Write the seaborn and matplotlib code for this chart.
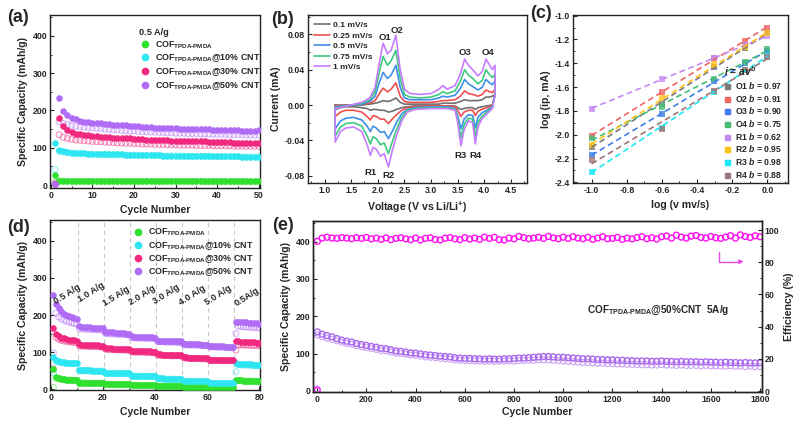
import numpy as np
import pandas as pd
import matplotlib
matplotlib.use("Agg")
import matplotlib.pyplot as plt
import seaborn as sns
from matplotlib.ticker import MultipleLocator, AutoMinorLocator, FormatStrFormatter
from matplotlib.lines import Line2D

# ---------------- data ----------------
SUB = r"COF$_{\mathrm{TPDA\text{-}PMDA}}$"
SERIES = [SUB, SUB + "@10% CNT", SUB + "@30% CNT", SUB + "@50% CNT"]

# (a) cycling at 0.5 A/g
a_cycles = list(range(1, 51))
a_green_f = [28, 12, 12, 11, 11, 11, 11, 11, 11, 11, 11, 11, 11, 11, 11, 11, 11, 11, 11, 10,
             10, 10, 10, 10, 10, 10, 10, 10, 10, 10, 10, 10, 10, 10, 10, 10, 10, 10, 10, 10,
             10, 10, 10, 10, 10, 10, 10, 10, 10, 10]
a_green_o = [8, 11, 11, 10, 10, 10, 10, 10, 10, 10, 10, 10, 10, 10, 10, 10, 10, 10, 10, 10,
             10, 10, 10, 10, 10, 10, 10, 10, 10, 10, 10, 10, 10, 10, 10, 10, 9, 9, 9, 9,
             9, 9, 9, 9, 9, 9, 9, 9, 9, 9]
a_cyan_f = [113, 93, 90, 88, 87, 86, 85, 85, 84, 84, 83, 83, 83, 82, 82, 82, 82, 81, 81, 81,
            81, 80, 80, 80, 80, 80, 79, 79, 79, 79, 79, 79, 78, 78, 78, 78, 78, 78, 77, 77,
            77, 77, 77, 77, 77, 76, 76, 76, 76, 76]
a_cyan_o = [42, 90, 88, 87, 86, 85, 84, 84, 83, 83, 82, 82, 82, 81, 81, 81, 81, 80, 80, 80,
            80, 79, 79, 79, 79, 79, 78, 78, 78, 78, 78, 78, 77, 77, 77, 77, 77, 77, 76, 76,
            76, 76, 76, 76, 76, 75, 75, 75, 75, 75]
a_pink_f = [4, 180, 157, 147, 141, 138, 136, 134, 133, 132, 131, 130, 129, 128, 127, 127, 126, 125, 125, 124,
            123, 123, 122, 122, 121, 121, 120, 120, 119, 119, 119, 118, 118, 118, 117, 117, 117, 116, 116, 116,
            115, 115, 115, 114, 114, 114, 113, 113, 113, 113]
a_pink_o = [4, 135, 128, 125, 123, 121, 120, 119, 118, 117, 116, 116, 115, 114, 114, 113, 113, 112, 112, 111,
            111, 110, 110, 110, 109, 109, 109, 108, 108, 108, 107, 107, 107, 107, 106, 106, 106, 106, 105, 105,
            105, 105, 105, 104, 104, 104, 104, 104, 104, 104]
a_purple_f = [2, 233, 198, 188, 181, 176, 173, 170, 168, 167, 166, 165, 164, 163, 162, 162, 161, 160, 159, 158,
              157, 156, 155, 155, 154, 154, 153, 153, 152, 152, 151, 151, 150, 150, 150, 149, 149, 149, 148, 148,
              148, 147, 147, 147, 147, 146, 146, 146, 146, 147]
a_purple_o = [2, 170, 165, 162, 160, 158, 156, 155, 154, 153, 152, 151, 150, 149, 148, 148, 147, 146, 145, 145,
              144, 143, 143, 142, 142, 141, 141, 140, 140, 139, 139, 139, 138, 138, 138, 137, 137, 137, 136, 136,
              136, 136, 135, 135, 135, 135, 134, 134, 134, 134]

# (b) CV curves
cv_rates = ["0.1 mV/s", "0.25 mV/s", "0.5 mV/s", "0.75 mV/s", "1 mV/s"]
cv_v_up = [1.20, 1.50, 1.70, 1.85, 1.95, 2.02, 2.10, 2.18, 2.25, 2.34, 2.42, 2.50, 2.60, 2.80, 3.00,
           3.15, 3.22, 3.30, 3.45, 3.55, 3.63, 3.70, 3.78, 3.88, 3.96, 4.03, 4.10, 4.15, 4.20]
cv_up = {
    "0.1 mV/s": [0.000, 0.000, 0.000, 0.001, 0.002, 0.003, 0.005, 0.004, 0.005, 0.008, 0.003, 0.001, 0.001, 0.001, 0.001,
                 0.001, 0.002, 0.002, 0.002, 0.004, 0.006, 0.005, 0.005, 0.005, 0.006, 0.009, 0.009, 0.010, 0.012],
    "0.25 mV/s": [-0.001, 0.000, 0.001, 0.002, 0.005, 0.012, 0.019, 0.015, 0.018, 0.025, 0.010, 0.004, 0.003, 0.003, 0.003,
                  0.004, 0.005, 0.005, 0.006, 0.010, 0.016, 0.013, 0.012, 0.010, 0.012, 0.017, 0.015, 0.014, 0.018],
    "0.5 mV/s": [-0.002, 0.000, 0.001, 0.004, 0.010, 0.024, 0.037, 0.030, 0.034, 0.045, 0.020, 0.008, 0.006, 0.006, 0.006,
                 0.008, 0.010, 0.009, 0.011, 0.019, 0.029, 0.024, 0.021, 0.017, 0.020, 0.029, 0.025, 0.023, 0.027],
    "0.75 mV/s": [-0.003, 0.000, 0.002, 0.006, 0.015, 0.035, 0.055, 0.045, 0.050, 0.062, 0.030, 0.012, 0.009, 0.008, 0.009,
                  0.012, 0.015, 0.013, 0.016, 0.027, 0.040, 0.034, 0.030, 0.024, 0.028, 0.040, 0.034, 0.031, 0.035],
    "1 mV/s": [-0.004, 0.000, 0.003, 0.008, 0.020, 0.045, 0.070, 0.058, 0.062, 0.079, 0.040, 0.018, 0.013, 0.012, 0.013,
               0.018, 0.022, 0.018, 0.022, 0.035, 0.052, 0.045, 0.040, 0.033, 0.038, 0.052, 0.045, 0.040, 0.045],
}
cv_v_down = [4.20, 4.15, 4.05, 3.95, 3.88, 3.83, 3.78, 3.70, 3.62, 3.56, 3.50, 3.45, 3.30, 3.00, 2.70, 2.55,
             2.45, 2.35, 2.27, 2.20, 2.12, 2.05, 1.97, 1.91, 1.86, 1.80, 1.70, 1.55, 1.40, 1.30, 1.20]
cv_down = {
    "0.1 mV/s": [0.012, 0.000, -0.001, -0.002, -0.003, -0.005, -0.003, -0.003, -0.004, -0.005, -0.003, -0.001, -0.001, -0.001, -0.001, -0.002,
                 -0.003, -0.005, -0.007, -0.008, -0.006, -0.006, -0.005, -0.005, -0.006, -0.004, -0.003, -0.002, -0.002, -0.003, -0.005],
    "0.25 mV/s": [0.012, -0.001, -0.003, -0.005, -0.007, -0.012, -0.006, -0.006, -0.008, -0.013, -0.006, -0.002, -0.001, -0.001, -0.002, -0.003,
                  -0.006, -0.011, -0.016, -0.021, -0.016, -0.016, -0.013, -0.012, -0.017, -0.013, -0.008, -0.006, -0.006, -0.008, -0.013],
    "0.5 mV/s": [0.012, -0.002, -0.006, -0.009, -0.014, -0.026, -0.012, -0.011, -0.016, -0.027, -0.012, -0.004, -0.002, -0.002, -0.003, -0.005,
                 -0.010, -0.020, -0.030, -0.038, -0.030, -0.031, -0.026, -0.024, -0.030, -0.024, -0.017, -0.014, -0.015, -0.018, -0.027],
    "0.75 mV/s": [0.012, -0.003, -0.008, -0.013, -0.020, -0.036, -0.016, -0.015, -0.022, -0.037, -0.016, -0.005, -0.003, -0.003, -0.004, -0.006,
                  -0.014, -0.028, -0.042, -0.055, -0.043, -0.045, -0.038, -0.036, -0.044, -0.035, -0.024, -0.020, -0.021, -0.025, -0.035],
    "1 mV/s": [0.012, -0.004, -0.010, -0.016, -0.025, -0.044, -0.020, -0.018, -0.028, -0.046, -0.020, -0.006, -0.004, -0.004, -0.005, -0.008,
               -0.018, -0.035, -0.052, -0.070, -0.055, -0.058, -0.050, -0.048, -0.057, -0.045, -0.030, -0.025, -0.026, -0.030, -0.042],
}
cv_peak_names = ["O1", "O2", "O3", "O4", "R1", "R2", "R3", "R4"]
cv_peak_v = [2.13, 2.36, 3.63, 4.06, 1.86, 2.20, 3.55, 3.84]
cv_peak_i = [0.076, 0.084, 0.059, 0.059, -0.076, -0.080, -0.057, -0.057]

# (c) log(ip) vs log(v)
c_logv = [-1.0, -0.602, -0.301, -0.125, 0.0]
c_peaks = ["O1", "O2", "O3", "O4", "R1", "R2", "R3", "R4"]
c_bvals = ["0.97", "0.91", "0.90", "0.75", "0.62", "0.95", "0.98", "0.88"]
c_logi = {
    "O1": [-2.10, -1.74, -1.43, -1.27, -1.15],
    "O2": [-2.01, -1.64, -1.36, -1.21, -1.10],
    "O3": [-2.17, -1.83, -1.55, -1.40, -1.30],
    "O4": [-2.03, -1.77, -1.53, -1.39, -1.28],
    "R1": [-1.78, -1.53, -1.36, -1.25, -1.17],
    "R2": [-2.09, -1.69, -1.41, -1.26, -1.15],
    "R3": [-2.31, -1.94, -1.64, -1.46, -1.34],
    "R4": [-2.21, -1.95, -1.63, -1.46, -1.35],
}

# (d) rate capability
d_cycles = list(range(1, 81))
d_rate_labels = ["0.5 A/g", "1.0 A/g", "1.5 A/g", "2.0 A/g", "3.0 A/g", "4.0 A/g", "5.0 A/g", "0.5A/g"]
d_label_x = [6.3, 15.7, 25.3, 35.0, 44.5, 54.2, 64.4, 75.3]
d_label_y = [257, 261, 250, 254, 257, 252, 254, 250]
d_boundaries = [10.5, 20.5, 30.5, 40.5, 50.5, 60.5, 70.5]
d_green_f = [55, 33, 30, 28, 27, 26, 26, 25, 25, 25, 18, 18, 18, 17, 17, 17, 17, 17, 17, 17,
             15, 15, 14, 14, 14, 14, 14, 14, 14, 14, 12, 12, 12, 11, 11, 11, 11, 11, 11, 11,
             9, 9, 9, 9, 9, 9, 9, 9, 9, 9, 7, 7, 7, 7, 7, 7, 7, 7, 7, 7,
             5, 5, 5, 5, 5, 5, 5, 5, 5, 5, 25, 24, 24, 23, 23, 23, 23, 22, 22, 22]
d_green_o = [5, 30, 28, 27, 26, 25, 25, 24, 24, 24, 17, 17, 17, 16, 16, 16, 16, 16, 16, 16,
             14, 14, 13, 13, 13, 13, 13, 13, 13, 13, 11, 11, 11, 10, 10, 10, 10, 10, 10, 10,
             8, 8, 8, 8, 8, 8, 8, 8, 8, 8, 6, 6, 6, 6, 6, 6, 6, 6, 6, 6,
             4, 4, 4, 4, 4, 4, 4, 4, 4, 4, 22, 23, 23, 22, 22, 22, 22, 21, 21, 21]
d_cyan_f = [87, 78, 76, 74, 73, 72, 72, 71, 71, 70, 52, 51, 51, 51, 51, 50, 50, 50, 50, 50,
            44, 44, 44, 43, 43, 43, 43, 43, 43, 43, 37, 37, 37, 36, 36, 36, 36, 36, 36, 36,
            29, 29, 29, 28, 28, 28, 28, 28, 28, 28, 22, 22, 22, 21, 21, 21, 21, 21, 21, 21,
            17, 17, 17, 16, 16, 16, 16, 16, 16, 16, 70, 69, 68, 68, 67, 67, 67, 66, 66, 66]
d_cyan_o = [45, 74, 73, 72, 71, 70, 70, 69, 69, 69, 50, 50, 50, 49, 49, 49, 49, 49, 49, 49,
            43, 43, 42, 42, 42, 42, 42, 42, 42, 42, 36, 36, 35, 35, 35, 35, 35, 35, 35, 35,
            28, 28, 27, 27, 27, 27, 27, 27, 27, 27, 21, 21, 21, 20, 20, 20, 20, 20, 20, 20,
            16, 16, 15, 15, 15, 15, 15, 15, 15, 15, 47, 66, 66, 65, 65, 65, 64, 64, 64, 64]
d_pink_f = [166, 150, 143, 139, 137, 135, 134, 133, 132, 131, 121, 120, 120, 119, 119, 118, 118, 118, 117, 117,
            111, 110, 110, 109, 109, 109, 108, 108, 108, 108, 104, 103, 103, 103, 102, 102, 102, 102, 101, 101,
            94, 94, 93, 93, 93, 93, 92, 92, 92, 92, 86, 86, 85, 85, 85, 85, 85, 84, 84, 84,
            80, 80, 80, 80, 79, 79, 79, 79, 79, 79, 130, 129, 128, 128, 127, 127, 126, 126, 125, 125]
d_pink_o = [55, 140, 135, 132, 130, 129, 128, 127, 126, 126, 117, 116, 116, 116, 115, 115, 115, 115, 114, 114,
            108, 107, 107, 107, 106, 106, 106, 106, 105, 105, 101, 100, 100, 100, 100, 99, 99, 99, 99, 99,
            92, 91, 91, 91, 91, 90, 90, 90, 90, 90, 84, 84, 83, 83, 83, 83, 83, 82, 82, 82,
            78, 78, 78, 78, 77, 77, 77, 77, 77, 77, 105, 120, 120, 119, 119, 119, 118, 118, 118, 118]
d_purple_f = [253, 230, 218, 210, 204, 200, 197, 194, 192, 190, 170, 169, 168, 167, 167, 166, 166, 165, 165, 164,
              155, 154, 153, 153, 152, 152, 151, 151, 150, 150, 143, 142, 142, 141, 141, 141, 140, 140, 140, 139,
              131, 131, 130, 130, 130, 130, 129, 129, 129, 129, 123, 122, 122, 122, 121, 121, 121, 120, 120, 120,
              117, 117, 116, 116, 116, 116, 115, 115, 115, 115, 182, 181, 181, 180, 180, 179, 179, 178, 178, 177]
d_purple_o = [98, 205, 195, 190, 186, 183, 181, 179, 177, 176, 163, 163, 162, 162, 161, 161, 161, 160, 160, 160,
              150, 150, 149, 149, 149, 148, 148, 148, 147, 147, 139, 139, 138, 138, 138, 137, 137, 137, 137, 136,
              128, 128, 128, 127, 127, 127, 127, 126, 126, 126, 120, 120, 119, 119, 119, 119, 118, 118, 118, 118,
              114, 114, 114, 113, 113, 113, 113, 113, 112, 112, 150, 170, 169, 168, 168, 167, 167, 166, 166, 165]

# (e) long cycling at 5 A/g
e_cycles = [1] + list(range(20, 1801, 20))
e_charge = [158, 152, 148, 145, 140, 136, 133, 131, 127, 124, 122, 119, 117, 114, 113, 110, 107, 106, 104, 102,
            101, 99, 97, 96, 95, 93, 92, 91, 89, 88, 87, 87, 86, 86, 85, 86, 85, 85, 86, 86,
            87, 88, 88, 89, 90, 91, 92, 92, 91, 90, 90, 89, 88, 87, 86, 86, 85, 84, 84, 83,
            83, 82, 82, 81, 81, 80, 80, 80, 79, 79, 80, 79, 79, 78, 79, 78, 78, 78, 77, 78,
            77, 77, 76, 77, 76, 76, 75, 76, 75, 75, 75]
e_discharge = [150, 145, 141, 138, 134, 130, 127, 125, 121, 118, 116, 113, 111, 108, 107, 104, 101, 100, 98, 96,
               95, 93, 91, 90, 89, 87, 86, 85, 83, 82, 81, 81, 80, 80, 79, 80, 79, 79, 80, 80,
               80, 81, 81, 82, 82, 83, 83, 83, 82, 81, 80, 79, 78, 77, 76, 76, 75, 74, 74, 73,
               73, 72, 72, 71, 71, 70, 70, 70, 69, 69, 70, 69, 69, 68, 69, 68, 68, 68, 67, 68,
               67, 67, 67, 66, 67, 66, 66, 65, 66, 65, 65]
e_eff = [93.0, 95.0, 95.5, 95.0, 94.8, 95.3, 95.0, 94.6, 95.2, 94.8, 95.4, 94.5, 95.0, 94.2, 95.1, 94.0, 94.8, 95.2, 94.5, 94.0,
         95.0, 93.8, 94.8, 95.2, 94.1, 93.8, 94.9, 95.3, 94.5, 94.0, 95.2, 94.4, 95.0, 94.2, 95.6, 94.8, 95.5, 94.0, 93.8, 95.0,
         94.5, 96.0, 95.2, 94.6, 95.0, 95.5, 94.8, 96.0, 95.1, 94.6, 95.6, 94.8, 95.8, 95.0, 94.6, 95.5, 94.2, 95.0, 95.8, 94.6,
         94.8, 95.4, 94.2, 95.0, 94.5, 95.3, 95.8, 94.6, 95.2, 94.4, 95.8, 96.3, 95.0, 96.8, 95.6, 95.0, 96.2, 96.6, 95.4, 95.0,
         96.0, 95.2, 94.8, 95.6, 96.5, 95.0, 97.0, 96.0, 95.4, 96.4, 95.8]
e_first_cycle = [0]
e_first_discharge = [6]
e_first_eff = [0.5]

# ---------------- style ----------------
sns.set_theme(style="ticks")
plt.rcParams.update({
    "font.family": ["Liberation Sans", "DejaVu Sans"],
    "font.weight": "bold",
    "axes.labelweight": "bold",
    "axes.unicode_minus": False,
    "mathtext.fontset": "custom",
    "mathtext.rm": "Liberation Sans:bold",
    "mathtext.it": "Liberation Sans:italic:bold",
    "mathtext.bf": "Liberation Sans:bold",
    "xtick.direction": "in", "ytick.direction": "in",
    "xtick.major.size": 3, "ytick.major.size": 3,
    "xtick.minor.size": 1.6, "ytick.minor.size": 1.6,
    "xtick.major.width": 0.8, "ytick.major.width": 0.8,
    "xtick.minor.width": 0.7, "ytick.minor.width": 0.7,
    "xtick.major.pad": 2.5, "ytick.major.pad": 2,
    "axes.linewidth": 1.0,
    "axes.edgecolor": "#222222",
    "xtick.labelsize": 6.3, "ytick.labelsize": 6.3,
    "axes.labelsize": 7.6,
})

GREEN, CYAN, PINK, PURPLE = "#2fe02f", "#2ee6f2", "#f0287f", "#b06cf5"
COLS4 = [GREEN, CYAN, PINK, PURPLE]

W, H = 802, 425
fig = plt.figure(figsize=(W / 100, H / 100), dpi=100)


def box(l, t, r, b):
    return [l / W, 1 - b / H, (r - l) / W, (b - t) / H]


axa = fig.add_axes(box(50, 15, 260, 188))
axb = fig.add_axes(box(308, 15, 527, 183))
axc = fig.add_axes(box(573, 15, 788, 183))
axd = fig.add_axes(box(50, 220, 260, 390))
axe = fig.add_axes(box(313, 221, 762, 392))

for ax in (axa, axb, axc, axd, axe):
    for s in ax.spines.values():
        s.set_visible(True)
    ax.tick_params(top=False, right=False)


def scat(ax, x, y, col, filled, size=18):
    if filled:
        sns.scatterplot(x=x, y=y, ax=ax, color=col, s=size, edgecolor=col, linewidth=0.4,
                        legend=False, zorder=3)
    else:
        sns.scatterplot(x=x, y=y, ax=ax, facecolor="none", edgecolor=col, s=size, linewidth=0.8,
                        alpha=0.5, legend=False, zorder=2)


# ---------- (a) ----------
a_open = [a_green_o, a_cyan_o, a_pink_o, a_purple_o]
a_fill = [a_green_f, a_cyan_f, a_pink_f, a_purple_f]
for yo, col in zip(a_open, COLS4):
    scat(axa, a_cycles, yo, col, False)
for yf, col in zip(a_fill, COLS4):
    scat(axa, a_cycles, yf, col, True)
axa.set_xlim(-0.2, 50.3)
axa.set_ylim(-8, 456)
axa.xaxis.set_major_locator(MultipleLocator(10))
axa.yaxis.set_major_locator(MultipleLocator(100))
axa.xaxis.set_minor_locator(AutoMinorLocator(2))
axa.yaxis.set_minor_locator(AutoMinorLocator(2))
axa.set_xlabel("Cycle Number", labelpad=3)
axa.set_ylabel("Specific Capacity (mAh/g)", labelpad=3)
hand = [Line2D([], [], marker="o", ls="", color=c, markersize=4.5) for c in COLS4]
lg = axa.legend(hand, SERIES, title="0.5 A/g", loc="upper left", bbox_to_anchor=(0.395, 0.958),
                frameon=False, fontsize=6.4, title_fontsize=6.6, labelspacing=0.2,
                handletextpad=0.55, handlelength=1.2, borderpad=0.2)
lg._legend_box.align = "left"
lg.get_title().set_fontweight("bold")

# ---------- (b) ----------
CV_COLS = ["#707070", "#ef4f4f", "#3f8fe8", "#3ec97f", "#c57cff"]
rows = []
for rate in cv_rates:
    vs = cv_v_up + cv_v_down + [cv_v_up[0]]
    cs = cv_up[rate] + cv_down[rate] + [cv_up[rate][0]]
    for k, (v, c) in enumerate(zip(vs, cs)):
        rows.append({"V": v, "I": c, "rate": rate, "k": k})
cvdf = pd.DataFrame(rows)
sns.lineplot(data=cvdf, x="V", y="I", hue="rate", palette=CV_COLS, hue_order=cv_rates,
             sort=False, estimator=None, units="rate", ax=axb, lw=1.2, legend=False)
axb.set_xlim(0.69, 4.8)
axb.set_ylim(-0.0883, 0.1019)
axb.xaxis.set_major_locator(MultipleLocator(0.5))
axb.yaxis.set_major_locator(MultipleLocator(0.04))
axb.xaxis.set_minor_locator(AutoMinorLocator(2))
axb.yaxis.set_minor_locator(AutoMinorLocator(2))
axb.xaxis.set_major_formatter(FormatStrFormatter("%.1f"))
axb.yaxis.set_major_formatter(FormatStrFormatter("%.2f"))
axb.set_xlabel("Voltage (V vs Li/Li$^{+}$)", labelpad=3)
axb.set_ylabel("Current (mA)", labelpad=3)
for name, v, i in zip(cv_peak_names, cv_peak_v, cv_peak_i):
    axb.text(v, i, name, ha="center", va="center", fontsize=6.8, fontweight="bold")
hb = [Line2D([], [], color=c, lw=1.2) for c in CV_COLS]
axb.legend(hb, cv_rates, loc="upper left", bbox_to_anchor=(0.0, 1.0), frameon=False,
           fontsize=6.1, labelspacing=0.3, handlelength=1.8, handletextpad=0.4, borderpad=0.25)

# ---------- (c) ----------
C_COLS = ["#7a7a7a", "#f06464", "#3d7fe6", "#43bd77", "#c58af2", "#ffc21a", "#19e8f5", "#a27474"]
for p, col, b in zip(c_peaks, C_COLS, c_bvals):
    sns.regplot(x=c_logv, y=c_logi[p], ax=axc, ci=None, marker="s", color=col,
                scatter_kws={"s": 13, "linewidths": 0}, truncate=True,
                line_kws={"ls": (0, (3.5, 2.2)), "lw": 1.2}, label=f"{p} $b$ = {b}")
axc.set_xlim(-1.106, 0.118)
axc.set_ylim(-2.405, -0.995)
axc.xaxis.set_major_locator(MultipleLocator(0.2))
axc.yaxis.set_major_locator(MultipleLocator(0.2))
axc.xaxis.set_minor_locator(AutoMinorLocator(2))
axc.yaxis.set_minor_locator(AutoMinorLocator(2))
axc.xaxis.set_major_formatter(FormatStrFormatter("%.1f"))
axc.yaxis.set_major_formatter(FormatStrFormatter("%.1f"))
axc.set_xlabel("log (v mv/s)", labelpad=3)
axc.set_ylabel("log (ip, mA)", labelpad=3)
hc = [Line2D([], [], marker="s", ls="", color=c, markersize=3.6) for c in C_COLS]
lc = axc.legend(hc, [f"{p} $b$ = {b}" for p, b in zip(c_peaks, c_bvals)],
                title=r"$i$ = $av^b$", loc="lower right", bbox_to_anchor=(1.0, -0.012), frameon=False,
                fontsize=6.2, title_fontsize=7.4, labelspacing=0.2, handlelength=0.8,
                handletextpad=0.5, borderpad=0.1)
lc._legend_box.align = "left"

# ---------- (d) ----------
for xb in d_boundaries:
    axd.axvline(xb, color="#c8c8c8", ls=(0, (4, 3)), lw=0.8, zorder=1)
d_open = [d_green_o, d_cyan_o, d_pink_o, d_purple_o]
d_fill = [d_green_f, d_cyan_f, d_pink_f, d_purple_f]
for yo, col in zip(d_open, COLS4):
    scat(axd, d_cycles, yo, col, False)
for yf, col in zip(d_fill, COLS4):
    scat(axd, d_cycles, yf, col, True)
for lab, x, y in zip(d_rate_labels, d_label_x, d_label_y):
    axd.text(x, y, lab, rotation=32, ha="center", va="center", fontsize=6.6, fontweight="bold")
axd.set_xlim(-0.3, 80.3)
axd.set_ylim(-2, 456)
axd.xaxis.set_major_locator(MultipleLocator(20))
axd.yaxis.set_major_locator(MultipleLocator(100))
axd.xaxis.set_minor_locator(AutoMinorLocator(2))
axd.yaxis.set_minor_locator(AutoMinorLocator(2))
axd.set_xlabel("Cycle Number", labelpad=3)
axd.set_ylabel("Specific Capacity (mAh/g)", labelpad=3)
axd.legend(hand, SERIES, loc="upper left", bbox_to_anchor=(0.36, 1.0),
           frameon=False, fontsize=6.4, labelspacing=0.17,
           handletextpad=0.55, handlelength=1.2, borderpad=0.25)

# ---------- (e) ----------
E_PURPLE = "#a968ee"
sns.scatterplot(x=e_cycles, y=e_discharge, ax=axe, facecolor="none", edgecolor="#c9a2f3",
                s=18, linewidth=0.8, legend=False, zorder=2)
sns.scatterplot(x=e_cycles, y=e_charge, ax=axe, facecolor="none", edgecolor=E_PURPLE,
                s=18, linewidth=1.0, legend=False, zorder=3)
sns.scatterplot(x=e_first_cycle, y=e_first_discharge, ax=axe, facecolor="none",
                edgecolor="#c9a2f3", s=18, linewidth=0.8, legend=False)
axe.set_xlim(-17, 1808)
axe.set_ylim(-3, 455)
axe.xaxis.set_major_locator(MultipleLocator(200))
axe.yaxis.set_major_locator(MultipleLocator(100))
axe.xaxis.set_minor_locator(AutoMinorLocator(2))
axe.yaxis.set_minor_locator(AutoMinorLocator(2))
axe.set_xlabel("Cycle Number", labelpad=2)
axe.set_ylabel("Specific Capacity (mAh/g)", labelpad=3)
axe.text(1097, 215, SUB + "@50%CNT  5A/g", ha="left", va="center",
         fontsize=7.2, fontweight="bold")
ax2 = axe.twinx()
sns.scatterplot(x=e_cycles, y=e_eff, ax=ax2, facecolor="none", edgecolor="#ff11ee",
                s=18, linewidth=1.0, legend=False)
sns.scatterplot(x=e_first_cycle, y=e_first_eff, ax=ax2, facecolor="none", edgecolor="#ff11ee",
                s=18, linewidth=1.0, legend=False)
ax2.set_ylim(-0.6, 105.6)
ax2.yaxis.set_major_locator(MultipleLocator(20))
ax2.yaxis.set_minor_locator(AutoMinorLocator(2))
ax2.tick_params(axis="y", direction="in", right=True, labelsize=6.3)
ax2.set_ylabel("Efficiency (%)", labelpad=3, fontsize=7.6, fontweight="bold")
axe.plot([1633, 1633, 1710], [372, 346, 346], color="#e64ae6", lw=1.0)
axe.annotate("", xy=[1745, 346], xytext=[1700, 346],
             arrowprops=dict(arrowstyle="-|>", color="#e64ae6", lw=1.0, mutation_scale=6))

for lab in (axa.get_xticklabels() + axa.get_yticklabels() + axb.get_xticklabels() +
            axb.get_yticklabels() + axc.get_xticklabels() + axc.get_yticklabels() +
            axd.get_xticklabels() + axd.get_yticklabels() + axe.get_xticklabels() +
            axe.get_yticklabels() + ax2.get_yticklabels()):
    lab.set_fontweight("bold")

# panel letters
for lab, (px, py) in zip(["(a)", "(b)", "(c)", "(d)", "(e)"],
                         [(18, 17), (282, 19), (541, 13), (18, 228), (283, 226)]):
    fig.text(px / W, 1 - py / H, lab, ha="center", va="center", fontsize=13, fontweight="bold")

fig.savefig("out.png", dpi=100)
